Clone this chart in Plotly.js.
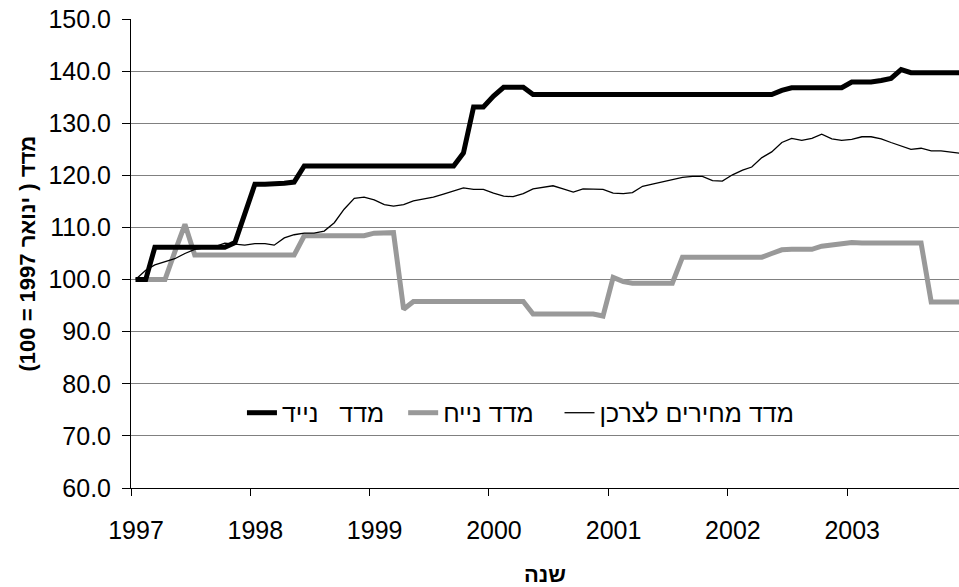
<!DOCTYPE html>
<html>
<head>
<meta charset="utf-8">
<script src="https://cdn.plot.ly/plotly-3.0.1.min.js"></script>
<style>
  html, body { margin: 0; padding: 0; background: #ffffff; }
  #chart { width: 959px; height: 587px; }
</style>
</head>
<body>
<div id="chart"></div>
<script>
// Monthly indices, January 1997 = 100 (Jan 1997 .. Dec 2003)
const firstYear = 1997;
const lastYear = 2003;

const nayadIndex = [
  100.0, 100.0, 106.2, 106.2, 106.2, 106.2, 106.2, 106.2, 106.2, 106.2, 107.1, 112.6,
  118.3, 118.3, 118.3, 118.5, 118.7, 121.8, 121.8, 121.8, 121.8, 121.8, 121.8, 121.8,
  121.8, 121.8, 121.8, 121.8, 121.8, 121.8, 121.8, 121.8, 121.8, 124.3, 133.1, 133.1,
  135.2, 136.9, 136.9, 136.9, 135.5, 135.5, 135.5, 135.5, 135.5, 135.5, 135.5, 135.5,
  135.5, 135.5, 135.5, 135.5, 135.5, 135.5, 135.5, 135.5, 135.5, 135.5, 135.5, 135.5,
  135.5, 135.5, 135.5, 135.5, 135.5, 136.3, 136.8, 136.8, 136.8, 136.8, 136.8, 136.8,
  137.9, 137.9, 137.9, 138.2, 138.6, 140.3, 139.7, 139.7, 139.7, 139.7, 139.7, 139.7
];

const nayachIndex = [
  100.0, 100.0, 100.0, 100.0, 105.3, 110.6, 104.7, 104.7, 104.7, 104.7, 104.7, 104.7,
  104.7, 104.7, 104.7, 104.7, 104.7, 108.4, 108.4, 108.4, 108.4, 108.4, 108.4, 108.4,
  108.9, 109.0, 109.0, 94.3, 95.8, 95.8, 95.8, 95.8, 95.8, 95.8, 95.8, 95.8,
  95.8, 95.8, 95.8, 95.8, 93.4, 93.4, 93.5, 93.5, 93.4, 93.4, 93.4, 93.0,
  100.4, 99.6, 99.3, 99.3, 99.3, 99.3, 99.3, 104.3, 104.3, 104.3, 104.3, 104.3,
  104.3, 104.3, 104.3, 104.3, 105.0, 105.7, 105.8, 105.8, 105.8, 106.4, 106.7, 106.9,
  107.1, 107.0, 107.0, 107.0, 107.0, 107.0, 107.0, 107.0, 95.7, 95.7, 95.7, 95.7
];

const consumerPriceIndex = [
  100.0, 101.8, 102.8, 103.4, 104.0, 105.0, 105.8, 106.1, 106.3, 107.0, 106.8, 106.6,
  106.9, 106.9, 106.6, 108.0, 108.6, 108.9, 108.9, 109.3, 110.9, 113.5, 115.6, 115.8,
  115.3, 114.4, 114.1, 114.4, 115.1, 115.5, 115.8, 116.4, 117.0, 117.6, 117.3, 117.3,
  116.6, 116.0, 115.9, 116.5, 117.4, 117.7, 118.0, 117.4, 116.8, 117.4, 117.4, 117.3,
  116.6, 116.5, 116.7, 117.9, 118.3, 118.7, 119.2, 119.6, 119.8, 119.8, 119.0, 118.9,
  120.1, 121.0, 121.6, 123.4, 124.5, 126.3, 127.1, 126.7, 127.1, 127.9, 127.0, 126.7,
  126.9, 127.4, 127.4, 127.0, 126.3, 125.7, 125.0, 125.2, 124.7, 124.7, 124.5, 124.2
];

// legend labels; the trailing no-break spaces widen the gap before the next entry
const seriesNames = [
  'מדד\u00a0\u00a0 נייד\u00a0\u00a0',
  'מדד נייח\u00a0\u00a0\u00a0',
  'מדד מחירים לצרכן'
];
const xTitle = 'שנה';
// RTL embedding keeps the parenthesised part in right-to-left order
const yTitle = '\u202Bמדד ( ינואר 1997 = 100)\u202C';

// one point per month, placed mid-month
const months = [];
for (let y = firstYear; y <= lastYear; y++) {
  for (let m = 1; m <= 12; m++) {
    months.push(y + '-' + String(m).padStart(2, '0') + '-15');
  }
}

const baseFont = 'Arial, "Liberation Sans", "DejaVu Sans", sans-serif';

const traces = [
  {
    x: months, y: nayachIndex, name: seriesNames[1], type: 'scatter', mode: 'lines',
    line: { color: '#999999', width: 5 }, legendrank: 2
  },
  {
    x: months, y: nayadIndex, name: seriesNames[0], type: 'scatter', mode: 'lines',
    line: { color: '#000000', width: 5 }, legendrank: 1
  },
  {
    x: months, y: consumerPriceIndex, name: seriesNames[2], type: 'scatter', mode: 'lines',
    line: { color: '#000000', width: 1.3 }, legendrank: 3
  }
];

const layout = {
  width: 959,
  height: 587,
  margin: { l: 131, r: 0, t: 19, b: 99, pad: 0 },
  paper_bgcolor: '#ffffff',
  plot_bgcolor: '#ffffff',
  font: { family: baseFont, size: 25, color: '#000000' },
  showlegend: true,
  legend: {
    orientation: 'h',
    x: 0.134, xanchor: 'left',
    y: 0.16, yanchor: 'middle',
    bgcolor: 'rgba(0,0,0,0)',
    font: { family: baseFont, size: 25, color: '#000000' },
    itemclick: false
  },
  xaxis: {
    type: 'date',
    range: ['1997-01-01', '2003-12-09'],
    tick0: '1997-01-01',
    dtick: 'M12',
    tickformat: '%Y',
    showgrid: false,
    zeroline: false,
    showline: true,
    linecolor: '#000000',
    linewidth: 1,
    ticks: 'outside',
    ticklen: 7,
    tickwidth: 1,
    tickcolor: '#000000',
    ticklabelshift: 5,
    ticklabelstandoff: 13,
    tickfont: { family: baseFont, size: 25, color: '#000000' },
    title: {
      text: xTitle,
      standoff: 27,
      font: { family: baseFont, size: 22, color: '#000000', weight: 'bold' }
    }
  },
  yaxis: {
    range: [60, 150],
    dtick: 10,
    tick0: 60,
    tickformat: '.1f',
    showgrid: true,
    gridcolor: '#808080',
    gridwidth: 1,
    zeroline: false,
    showline: true,
    linecolor: '#000000',
    linewidth: 1,
    ticks: 'outside',
    ticklen: 8,
    tickwidth: 1,
    tickcolor: '#000000',
    ticklabelstandoff: 6,
    tickfont: { family: baseFont, size: 25, color: '#000000' }
  },
  annotations: [
    {
      // vertical axis title
      text: yTitle,
      xref: 'paper', yref: 'paper',
      x: -0.1256, y: 0.5,
      xanchor: 'center', yanchor: 'middle',
      textangle: -90,
      showarrow: false,
      font: { family: baseFont, size: 22, color: '#000000', weight: 'bold' }
    }
  ]
};

Plotly.newPlot('chart', traces, layout, { staticPlot: true, displayModeBar: false });
</script>
</body>
</html>
